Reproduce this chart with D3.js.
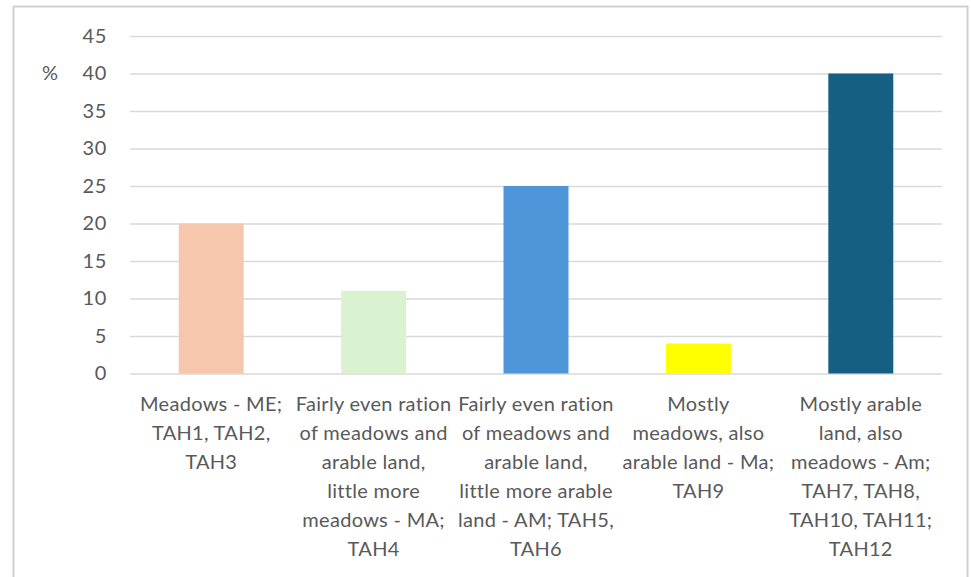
<!DOCTYPE html>
<html>
<head>
<meta charset="utf-8">
<script src="https://cdn.jsdelivr.net/npm/d3@7"></script>
<style>
  html, body { margin: 0; padding: 0; background: #ffffff; }
  svg { display: block; font-family: Lato, "Noto Sans", sans-serif; }
</style>
</head>
<body>
<svg id="chart" width="971" height="577"></svg>
<script>
// Share of land-use types (%), one bar per category
const categories = [
  ["Meadows - ME;", "TAH1, TAH2,", "TAH3"],
  ["Fairly even ration", "of meadows and", "arable land,", "little more", "meadows - MA;", "TAH4"],
  ["Fairly even ration", "of meadows and", "arable land,", "little more arable", "land - AM; TAH5,", "TAH6"],
  ["Mostly", "meadows, also", "arable land - Ma;", "TAH9"],
  ["Mostly arable", "land, also", "meadows - Am;", "TAH7, TAH8,", "TAH10, TAH11;", "TAH12"]
];
const values = [20, 11, 25, 4, 40];
const barColors = ["#F6C6AD", "#DAF2D0", "#4E95D9", "#FFFF00", "#156082"];
const yTicks = [0, 5, 10, 15, 20, 25, 30, 35, 40, 45];
const yUnit = "%";

const svg = d3.select("#chart");
const textColor = "#595959";
const gridColor = "#D9D9D9";

// outer frame (top, left and right edges)
svg.append("path")
  .attr("d", "M13.5,577 V6.5 H967.5 V577")
  .attr("fill", "none")
  .attr("stroke", "#D0D0D0")
  .attr("stroke-width", 2);

const plotLeft = 130, plotRight = 942, plotTop = 36, plotBottom = 373.5;

const x = d3.scaleBand()
  .domain(d3.range(values.length))
  .range([plotLeft, plotRight])
  .paddingInner(0.6)
  .paddingOuter(0.3);

const y = d3.scaleLinear()
  .domain([0, 45])
  .range([plotBottom, plotTop]);

// horizontal gridlines + tick labels
const yAxis = d3.axisLeft(y)
  .tickValues(yTicks)
  .tickSize(-(plotRight - plotLeft))
  .tickPadding(23)
  .tickFormat(d3.format("d"));

const gy = svg.append("g")
  .attr("transform", `translate(${plotLeft},0)`)
  .call(yAxis);
gy.select(".domain").remove();
gy.selectAll(".tick line").attr("stroke", gridColor).attr("stroke-width", 1.3);
gy.selectAll(".tick text")
  .attr("fill", textColor)
  .attr("font-size", 20)
  .attr("letter-spacing", 0.6)
  .attr("font-family", "Lato, 'Noto Sans', sans-serif");

// unit label
svg.append("text")
  .attr("x", 50)
  .attr("y", y(40) + 6)
  .attr("text-anchor", "middle")
  .attr("fill", textColor)
  .attr("font-size", 20)
  .text(yUnit);

// bars
svg.append("g")
  .selectAll("rect")
  .data(values)
  .join("rect")
  .attr("x", (d, i) => x(i))
  .attr("y", d => y(d))
  .attr("width", x.bandwidth())
  .attr("height", d => y(0) - y(d))
  .attr("fill", (d, i) => barColors[i]);

// multi-line category labels
const lineGap = 29;
const labels = svg.append("g")
  .selectAll("text")
  .data(categories)
  .join("text")
  .attr("text-anchor", "middle")
  .attr("fill", textColor)
  .attr("font-size", 20)
  .attr("letter-spacing", 0.3)
  .attr("transform", (d, i) => `translate(${x(i) + x.bandwidth() / 2},411)`);

labels.selectAll("tspan")
  .data(d => d)
  .join("tspan")
  .attr("x", 0)
  .attr("y", (d, i) => i * lineGap)
  .text(d => d);
</script>
</body>
</html>
